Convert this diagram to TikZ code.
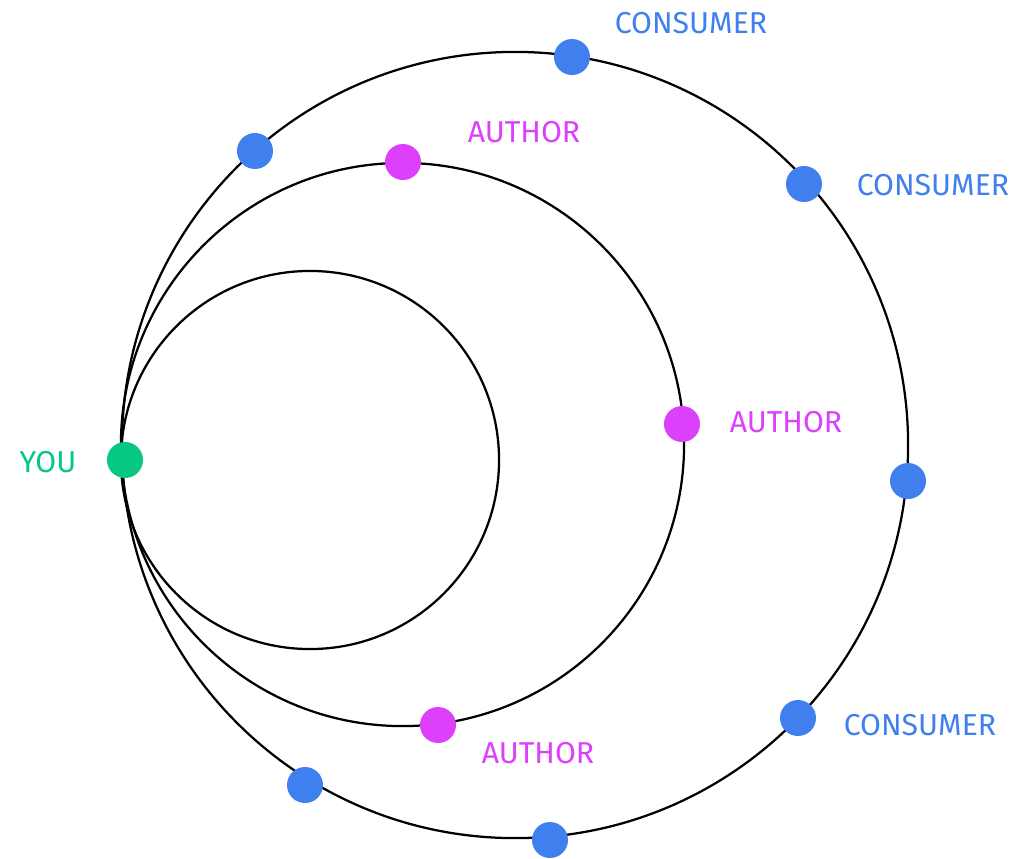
\documentclass[tikz,border=0pt]{standalone}
\usepackage{fontspec}
\setmainfont{Fira Sans}
\usepackage{tikz}
\definecolor{youGreen}{RGB}{6,200,130}
\definecolor{authMagenta}{RGB}{220,64,250}
\definecolor{consBlue}{RGB}{64,128,238}
\tikzset{%
  % Specifications for style of nodes:
        dot/.style = {circle, inner sep=0pt, minimum size=0.9cm},
     youdot/.style = {dot, fill=youGreen},
    authdot/.style = {dot, fill=authMagenta},
    consdot/.style = {dot, fill=consBlue},
      label/.style = {font=\fontsize{21.5}{24}\selectfont},
   youlabel/.style = {label, text=youGreen},
  authlabel/.style = {label, text=authMagenta},
  conslabel/.style = {label, text=consBlue},
      orbit/.style = {draw=black, line width=1.6pt}
}
\begin{document}
\begin{tikzpicture}[x=0.025cm, y=-0.025cm]
  \useasboundingbox (0,0) rectangle (1033,858);
  % Orbits
  \draw[orbit] (310,460) circle[radius=4.725cm];
  \draw[orbit] (402.5,444.5) circle[radius=7.0375cm];
  \draw[orbit] (515,445) circle[radius=9.825cm];

  % Specification of nodes (position, etc.)
  \node (you)    [youdot]  at (125,460) {};
  \node (auth1)  [authdot] at (403,162) {};
  \node (auth2)  [authdot] at (682,424) {};
  \node (auth3)  [authdot] at (438,725) {};
  \node (cons1)  [consdot] at (572,57)  {};
  \node (cons2)  [consdot] at (255,151) {};
  \node (cons3)  [consdot] at (804,184) {};
  \node (cons4)  [consdot] at (908,481) {};
  \node (cons5)  [consdot] at (798,718) {};
  \node (cons6)  [consdot] at (305,785) {};
  \node (cons7)  [consdot] at (550,840) {};

  \node (youtxt)   [youlabel]  at (48,462)  {YOU};
  \node (authtxt1) [authlabel] at (524,132) {AUTHOR};
  \node (authtxt2) [authlabel] at (786,422) {AUTHOR};
  \node (authtxt3) [authlabel] at (538,753) {AUTHOR};
  \node (constxt1) [conslabel] at (691,23)  {CONSUMER};
  \node (constxt2) [conslabel] at (933,185) {CONSUMER};
  \node (constxt3) [conslabel] at (920,725) {CONSUMER};
\end{tikzpicture}
\end{document}
